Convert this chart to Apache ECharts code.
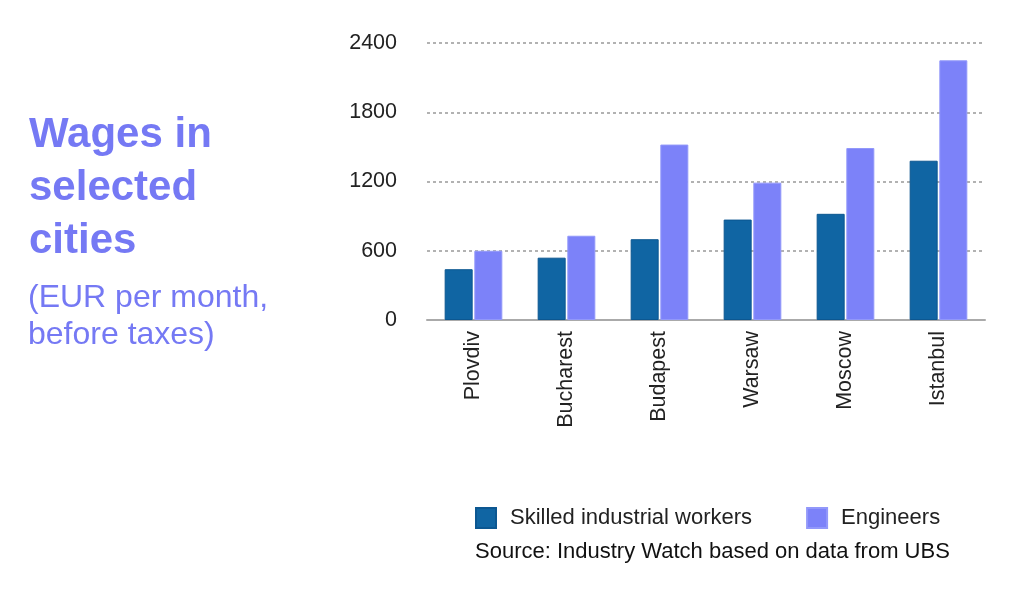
<!DOCTYPE html>
<html>
<head>
<meta charset="utf-8">
<script src="https://cdn.jsdelivr.net/npm/echarts@6/dist/echarts.min.js"></script>
<style>
  html, body { margin: 0; padding: 0; background: #fff; }
  #chart { width: 1024px; height: 594px; }
</style>
</head>
<body>
<div id="chart"></div>
<script>
// data
var cities = ['Plovdiv', 'Bucharest', 'Budapest', 'Warsaw', 'Moscow', 'Istanbul'];
var skilledWorkers = [440, 540, 700, 870, 920, 1380];
var engineers = [600, 730, 1520, 1190, 1490, 2250];
var yTicks = [0, 600, 1200, 1800, 2400];

var font = '"Liberation Sans", Arial, Helvetica, sans-serif';
var chart = echarts.init(document.getElementById('chart'));

var option = {
    animation: false,
    textStyle: { fontFamily: font },
    title: [{
        text: 'Wages in\nselected\ncities',
        left: 29,
        top: 109,
        padding: 0,
        textStyle: {
            fontFamily: font,
            fontSize: 42,
            fontWeight: 'bold',
            lineHeight: 53,
            color: '#7579F4'
        }
    }, {
        text: '(EUR per month,\nbefore taxes)',
        left: 28,
        top: 280,
        padding: 0,
        textStyle: {
            fontFamily: font,
            fontSize: 32,
            fontWeight: 'normal',
            lineHeight: 37,
            color: '#7579F4'
        }
    }],
    grid: {
        left: 427,
        right: 39,
        top: 43,
        bottom: 274,
        containLabel: false
    },
    legend: {
        left: 470,
        top: 502,
        itemWidth: 20,
        itemHeight: 20,
        itemGap: 54,
        icon: 'rect',
        textStyle: {
            fontFamily: font,
            fontSize: 22,
            color: '#222',
            padding: [0, 0, 0, 9]
        },
        data: ['Skilled industrial workers', 'Engineers']
    },
    xAxis: {
        type: 'category',
        data: cities,
        axisLine: { lineStyle: { color: '#aaa', width: 2 } },
        axisTick: { show: false },
        axisLabel: {
            rotate: 90,
            margin: 11,
            fontFamily: font,
            fontSize: 21.5,
            color: '#222'
        }
    },
    yAxis: {
        type: 'value',
        min: yTicks[0],
        max: yTicks[yTicks.length - 1],
        interval: 600,
        axisLine: { show: false },
        axisTick: { show: false },
        axisLabel: {
            margin: 30,
            fontFamily: font,
            fontSize: 21.5,
            color: '#222',
            formatter: function (v) { return String(v); }
        },
        splitLine: {
            lineStyle: { color: '#999', type: [3, 3], width: 1.5 }
        }
    },
    series: [{
        name: 'Skilled industrial workers',
        type: 'bar',
        data: skilledWorkers,
        barWidth: 28,
        barGap: '6%',
        itemStyle: { color: '#1065A3', borderColor: '#0C5791', borderWidth: 1 }
    }, {
        name: 'Engineers',
        type: 'bar',
        data: engineers,
        barWidth: 28,
        itemStyle: { color: '#7C82F9', borderColor: '#9298FA', borderWidth: 1 }
    }],
    graphic: [{
        type: 'text',
        left: 475,
        top: 541,
        style: {
            text: 'Source: Industry Watch based on data from UBS',
            font: '22px ' + font,
            fill: '#111'
        }
    }]
};
chart.setOption(option);

window.onresize = function () {
    chart.resize();
};
</script>
</body>
</html>
